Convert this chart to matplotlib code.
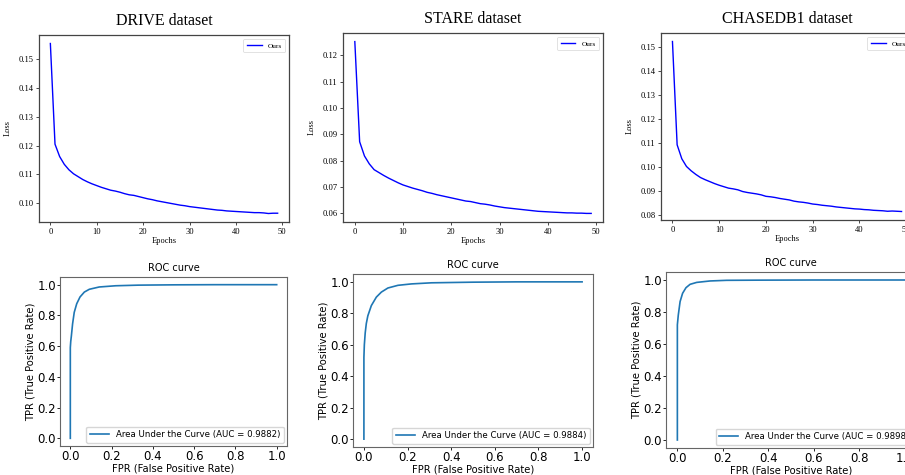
import matplotlib
matplotlib.use("Agg")
import matplotlib.pyplot as plt

# ---- training loss per epoch ----
epochs = list(range(50))

drive_loss = [0.1555, 0.1205, 0.1162, 0.1135, 0.1116, 0.1102, 0.1092, 0.1082, 0.1074, 0.1067,
              0.1061, 0.1055, 0.1050, 0.1045, 0.1042, 0.1038, 0.1033, 0.1029, 0.1027, 0.1023,
              0.1019, 0.1015, 0.1012, 0.1008, 0.1005, 0.1002, 0.0999, 0.0996, 0.0993, 0.0991,
              0.0988, 0.0986, 0.0984, 0.0982, 0.0980, 0.0978, 0.0976, 0.0975, 0.0973, 0.0972,
              0.0971, 0.0970, 0.0969, 0.0968, 0.0967, 0.0967, 0.0966, 0.0964, 0.0965, 0.0965]

stare_loss = [0.1252, 0.0872, 0.0818, 0.0788, 0.0766, 0.0755, 0.0744, 0.0734, 0.0725, 0.0716,
              0.0708, 0.0702, 0.0696, 0.0691, 0.0686, 0.0680, 0.0676, 0.0671, 0.0667, 0.0663,
              0.0659, 0.0655, 0.0651, 0.0647, 0.0645, 0.0641, 0.0637, 0.0635, 0.0632, 0.0628,
              0.0625, 0.0622, 0.0620, 0.0618, 0.0616, 0.0614, 0.0612, 0.0610, 0.0608, 0.0607,
              0.0606, 0.0605, 0.0604, 0.0603, 0.0602, 0.0602, 0.0601, 0.0601, 0.0600, 0.0600]

chase_loss = [0.1522, 0.1093, 0.1035, 0.1003, 0.0985, 0.0970, 0.0957, 0.0948, 0.0940, 0.0932,
              0.0925, 0.0919, 0.0913, 0.0910, 0.0906, 0.0899, 0.0895, 0.0892, 0.0889, 0.0885,
              0.0879, 0.0877, 0.0874, 0.0870, 0.0867, 0.0864, 0.0859, 0.0856, 0.0854, 0.0851,
              0.0847, 0.0845, 0.0842, 0.0840, 0.0838, 0.0835, 0.0833, 0.0831, 0.0829, 0.0827,
              0.0826, 0.0824, 0.0823, 0.0821, 0.0820, 0.0819, 0.0817, 0.0818, 0.0817, 0.0816]

# ---- ROC curves ----
drive_fpr = [0.0, 0.0, 0.002, 0.005, 0.011, 0.019, 0.031, 0.047, 0.068, 0.092, 0.14, 0.22, 0.33, 0.5, 0.7, 1.0]
drive_tpr = [0.0, 0.59, 0.63, 0.665, 0.745, 0.82, 0.876, 0.92, 0.952, 0.97, 0.985, 0.993, 0.997, 0.999, 1.0, 1.0]

stare_fpr = [0.0, 0.0, 0.002, 0.006, 0.011, 0.018, 0.034, 0.057, 0.08, 0.11, 0.156, 0.218, 0.31, 0.5, 0.7, 1.0]
stare_tpr = [0.0, 0.52, 0.6, 0.676, 0.735, 0.784, 0.849, 0.903, 0.935, 0.961, 0.978, 0.987, 0.994, 0.998, 1.0, 1.0]

chase_fpr = [0.0, 0.0, 0.004, 0.012, 0.023, 0.038, 0.056, 0.085, 0.144, 0.217, 0.35, 0.6, 1.0]
chase_tpr = [0.0, 0.72, 0.78, 0.865, 0.917, 0.952, 0.973, 0.985, 0.994, 0.998, 0.999, 1.0, 1.0]

auc_values = [0.9882, 0.9884, 0.9898]
dataset_names = ["DRIVE dataset", "STARE dataset", "CHASEDB1 dataset"]

W, H = 905, 475
fig = plt.figure(figsize=(W / 100, H / 100), dpi=100)


def box(x0, y0, x1, y1):
    # pixel box -> figure fraction
    return [x0 / W, 1 - y1 / H, (x1 - x0) / W, (y1 - y0) / H]


serif = "Liberation Serif"


def loss_panel(rect, loss, title):
    ax = fig.add_axes(box(*rect))
    ax.plot(epochs, loss, color="#0000ff", linewidth=1.0, label="Ours")
    ax.set_xticks([0, 10, 20, 30, 40, 50])
    ax.set_title(title, fontsize=11.5, family=serif, pad=7)
    ax.set_xlabel("Epochs", fontsize=6, family=serif, labelpad=1)
    ax.set_ylabel("Loss", fontsize=6, family=serif, labelpad=5)
    ax.tick_params(labelsize=6.1, length=2, width=0.5, pad=2)
    for lab in ax.get_xticklabels() + ax.get_yticklabels():
        lab.set_family(serif)
    for s in ax.spines.values():
        s.set_color("#444444")
        s.set_linewidth(0.9)
    leg = ax.legend(loc="upper right", prop={"family": serif, "size": 5.3},
                    handlelength=2.0, borderpad=0.5)
    leg.get_frame().set_linewidth(0.5)
    return ax


def roc_panel(rect, fpr, tpr, auc):
    ax = fig.add_axes(box(*rect))
    ax.plot(fpr, tpr, color="C0", linewidth=1.2,
            label="Area Under the Curve (AUC = %.4f)" % auc)
    ax.set_xticks([0.0, 0.2, 0.4, 0.6, 0.8, 1.0])
    ax.set_yticks([0.0, 0.2, 0.4, 0.6, 0.8, 1.0])
    ax.set_title("ROC curve", fontsize=7, pad=4)
    ax.set_xlabel("FPR (False Positive Rate)", fontsize=7.2, labelpad=0)
    ax.set_ylabel("TPR (True Positive Rate)", fontsize=7.2, labelpad=1)
    ax.tick_params(labelsize=8.5, length=2, width=0.6, pad=1)
    for s in ax.spines.values():
        s.set_color("#666666")
        s.set_linewidth(0.8)
    ax.legend(loc="lower right", fontsize=6.2, handlelength=2.2, borderaxespad=0.4)
    return ax


loss_panel((39, 35, 289, 222), drive_loss, dataset_names[0])
loss_panel((343, 33, 603, 222), stare_loss, dataset_names[1])
loss_panel((661, 33, 913, 220), chase_loss, dataset_names[2])

roc_panel((60, 277, 287, 446), drive_fpr, drive_tpr, auc_values[0])
roc_panel((353, 274, 593, 447), stare_fpr, stare_tpr, auc_values[1])
roc_panel((666, 272, 916, 448), chase_fpr, chase_tpr, auc_values[2])

fig.savefig("out.png", dpi=100)
